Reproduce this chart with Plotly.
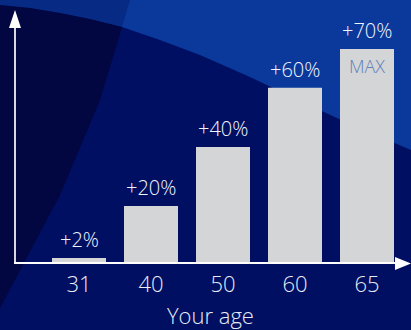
import plotly.graph_objects as go

# ---- data ----
ages = ["31", "40", "50", "60", "65"]
gain_labels = ["+2%", "+20%", "+40%", "+60%", "+70%"]
bar_heights = [1.7, 19.5, 39.7, 60.0, 73.3]   # bar heights as drawn (percent units)
max_label = "MAX"

W, H = 411, 330
L, B = 15, 67          # margins -> plot area x 15..411, y 0..263
PW, PH = W - L, H - B

def X(px):
    return (px - L) / PW

def Y(py):
    return (PH - py) / PH

def path(points, close=True):
    s = "M " + " L ".join(f"{X(a):.5f},{Y(b):.5f}" for a, b in points)
    return s + (" Z" if close else "")

xs = list(range(len(ages)))

fig = go.Figure()
fig.add_trace(go.Bar(
    x=xs, y=bar_heights, width=0.75,
    marker=dict(color="#d4d5d7", line=dict(width=0)),
    hoverinfo="skip",
))

shapes = []
# background
shapes.append(dict(type="rect", xref="paper", yref="paper", x0=X(0), x1=X(W), y0=Y(H), y1=Y(0),
                   fillcolor="#000f62", line=dict(width=0), layer="below"))
# curve boundary of the top bright band
curve = [(0, 5), (30, 8), (60, 13), (90, 19), (122, 27), (160, 40), (200, 55), (250, 77),
         (300, 101), (350, 124), (411, 150)]
# top band right of diagonal
shapes.append(dict(type="path", xref="paper", yref="paper",
                   path=path([(0, 0), (W, 0)] + curve[::-1]),
                   fillcolor="#0a399b", line=dict(width=0), layer="below"))
# top band left of diagonal
shapes.append(dict(type="path", xref="paper", yref="paper",
                   path=path([(0, 0), (130, 0), (122, 27)] + curve[:5][::-1]),
                   fillcolor="#072a84", line=dict(width=0), layer="below"))
# dark left wedge
shapes.append(dict(type="path", xref="paper", yref="paper",
                   path=path(curve[:5] + [(100, 100), (60, 195), (0, 308)]),
                   fillcolor="#020641", line=dict(width=0), layer="below"))
# axes with arrows
shapes.append(dict(type="line", xref="paper", yref="paper", x0=X(15), x1=X(15), y0=Y(263), y1=Y(24),
                   line=dict(color="#d9dae0", width=2)))
shapes.append(dict(type="path", xref="paper", yref="paper",
                   path=path([(9, 28), (21, 28), (15, 10)]),
                   fillcolor="#ffffff", line=dict(width=0)))
shapes.append(dict(type="line", xref="paper", yref="paper", x0=X(14), x1=X(398), y0=Y(263), y1=Y(263),
                   line=dict(color="#ffffff", width=2)))
shapes.append(dict(type="path", xref="paper", yref="paper",
                   path=path([(395, 257), (395, 270), (411, 263.5)]),
                   fillcolor="#ffffff", line=dict(width=0)))

annotations = []
for x, h, t in zip(xs, bar_heights, gain_labels):
    annotations.append(dict(x=x, y=h, text=t, showarrow=False, yanchor="bottom", yshift=3,
                            font=dict(family="Open Sans", size=20, weight=300, color="#f2f5ff")))
annotations.append(dict(x=xs[-1], y=bar_heights[-1], text=max_label, showarrow=False,
                        yanchor="top", yshift=-3,
                        font=dict(family="Open Sans", size=18, weight=300, color="#5f82ba")))
annotations.append(dict(xref="paper", yref="paper", x=X(210), y=Y(315), text="Your age",
                        showarrow=False, yanchor="middle", xanchor="center",
                        font=dict(family="Open Sans", size=22, weight=300, color="#e6ebf5")))

fig.update_layout(
    width=W, height=H,
    margin=dict(l=L, r=0, t=0, b=B, pad=0),
    paper_bgcolor="#000f62", plot_bgcolor="rgba(0,0,0,0)",
    showlegend=False,
    shapes=shapes, annotations=annotations,
    xaxis=dict(range=[-64 / 72, -64 / 72 + PW / 72], tickvals=xs, ticktext=ages,
               showgrid=False, zeroline=False, showline=False, ticks="",
               ticklabelstandoff=6,
               tickfont=dict(family="Open Sans", size=22, weight=300, color="#e6ebf5"),
               fixedrange=True),
    yaxis=dict(range=[0, PH / 2.92], visible=False, fixedrange=True),
    bargap=0.25,
)

fig.write_html("out.html", post_script="document.body.style.margin='0';document.body.style.padding='0';",
               config={"displayModeBar": False})
